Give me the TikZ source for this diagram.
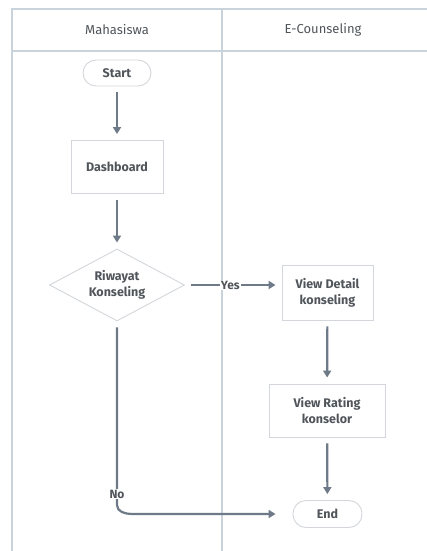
\documentclass[tikz,border=0pt]{standalone}
\usepackage{fontspec}
\setmainfont{Fira Sans}
\usetikzlibrary{arrows.meta,shapes.geometric}
\definecolor{lanecol}{HTML}{C9D3DC}
\definecolor{boxcol}{HTML}{D3D6DA}
\definecolor{flowcol}{HTML}{6E7A87}
\definecolor{txtcol}{HTML}{50555B}
\tikzset{
  lane/.style={draw=lanecol, line width=1.2pt},
  lanehead/.style={font=\fontsize{13}{15}\selectfont, text=txtcol},
  procbox/.style={draw=boxcol, line width=0.9pt, fill=white, font=\fontsize{12.5}{16}\selectfont\bfseries, text=txtcol, align=center, inner sep=0pt},
  termbox/.style={procbox, rounded corners=13pt},
  decbox/.style={draw=boxcol, line width=0.9pt, fill=white, diamond, aspect=1.875, font=\fontsize{12.5}{16}\selectfont\bfseries, text=txtcol, align=center, inner sep=0pt, minimum width=135pt, minimum height=72pt},
  flow/.style={draw=flowcol, line width=2.2pt, -{Triangle[length=7pt,width=8pt]}, shorten <=6pt, shorten >=6pt},
  flowlabel/.style={fill=white, font=\fontsize{12}{14}\selectfont\bfseries, text=txtcol, inner sep=1pt}
}
\begin{document}
\begin{tikzpicture}[x=1pt,y=-1pt]
  \useasboundingbox (0,0) rectangle (426,551);
  % swimlane frame
  \draw[lane] (12,560) -- (12,9) -- (440,9);
  \draw[lane] (12,51) -- (440,51);
  \draw[lane] (222,9) -- (222,560);
  \node[lanehead] (h1) at (117,30) {Mahasiswa};
  \node[lanehead] (h2) at (323,30) {E-Counseling};
  % flow nodes
  \node[termbox, minimum width=68pt, minimum height=26pt] (start) at (117,73) {Start};
  \node[procbox, minimum width=92pt, minimum height=53pt] (dash) at (117,167) {Dashboard};
  \node[decbox] (riw) at (117,285) {Riwayat\\Konseling};
  \node[procbox, minimum width=91pt, minimum height=55pt] (detail) at (327.5,292.5) {View Detail\\konseling};
  \node[procbox, minimum width=116pt, minimum height=53pt] (rating) at (327,410.5) {View Rating\\konselor};
  \node[termbox, minimum width=69pt, minimum height=27pt] (end) at (327.5,514) {End};
  % connectors
  \draw[flow] (start) -- (dash);
  \draw[flow] (dash) -- (riw);
  \draw[flow] (riw.east) -- node[flowlabel, pos=0.47] {Yes} (detail.west |- riw.east);
  \draw[flow] (detail) -- (rating);
  \draw[flow] (rating) -- (end);
  \coordinate (bend) at (117,505);
  \draw[flow, shorten >=17pt] (riw.south) -- node[flowlabel, pos=0.94] {No} (bend) to[out=-90,in=180] (132,514) -- (end.west);
\end{tikzpicture}
\end{document}
